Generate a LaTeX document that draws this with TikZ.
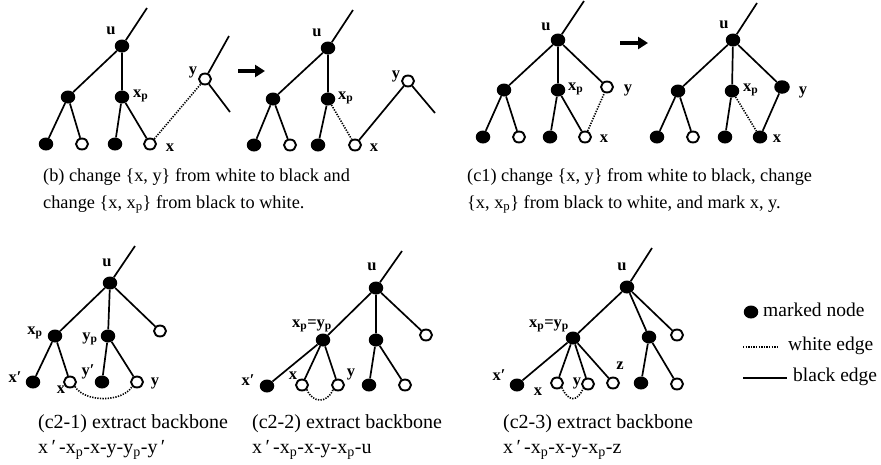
\documentclass[tikz,border=0pt]{standalone}
\usepackage{fontspec}
\setmainfont{Liberation Serif}
\usetikzlibrary{shapes.geometric,arrows.meta}
\newcommand{\sbp}{\textsubscript{p}}
\begin{document}
\begin{tikzpicture}[x=1pt,y=-1pt,
 bn/.style={ellipse,fill=black,inner sep=0pt,minimum width=14.5pt,minimum height=13pt},
 wn/.style={ellipse,draw=black,fill=white,line width=1.9pt,inner sep=0pt,minimum width=12pt,minimum height=11pt},
 blkedge/.style={line width=1.7pt},
 whtedge/.style={line width=1.6pt,dash pattern=on 1.3pt off 1.3pt},
 lab/.style={font=\fontsize{16.5}{18}\selectfont\bfseries,inner sep=0pt},
 captext/.style={font=\fontsize{18.3}{22}\selectfont,inner sep=0pt,anchor=base west},
 captextb/.style={font=\fontsize{20}{22}\selectfont,inner sep=0pt,anchor=base west},
 legtext/.style={font=\fontsize{19.5}{22}\selectfont,inner sep=0pt,anchor=west},
 bigarrow/.style={line width=4.5pt,-{Triangle[width=12pt,length=10pt]}}]
\useasboundingbox (0,0) rectangle (881,464);

% ---------- panel (b) left ----------
\coordinate (bt) at (147,8);
\node[bn] (bu) at (122,46) {};
\node[bn] (bl) at (68,97) {};
\node[bn] (bxp) at (122,97) {};
\node[bn] (bl1) at (46,144) {};
\node[wn] (bl2) at (82,144) {};
\node[bn] (bl3) at (115,144) {};
\node[wn] (bx) at (150,144) {};
\node[wn] (by) at (205,79) {};
\coordinate (byt) at (229,36);
\coordinate (byb) at (230,112);
\node[lab] (lbu) at (111,31) {u};
\node[lab,anchor=west] (lbxp) at (133,96) {x\sbp};
\node[lab] (lbx) at (170,148) {x};
\node[lab] (lby) at (193,72) {y};
\draw[blkedge] (bt) -- (bu) (bu) -- (bl) (bu) -- (bxp) (bl) -- (bl1) (bl) -- (bl2)
  (bxp) -- (bl3) (bxp) -- (bx) (by) -- (byt) (by) -- (byb);
\draw[whtedge] (bx) -- (by);

\coordinate (a1s) at (238,71);
\coordinate (a1e) at (265,71);
\draw[bigarrow] (a1s) -- (a1e);

% ---------- panel (b) right ----------
\coordinate (ct) at (353,10);
\node[bn] (cu) at (328,48) {};
\node[bn] (cl) at (273,99) {};
\node[bn] (cxp) at (328,99) {};
\node[bn] (cl1) at (254,145) {};
\node[wn] (cl2) at (290,145) {};
\node[bn] (cl3) at (318,145) {};
\node[wn] (cx) at (355,145) {};
\node[wn] (cy) at (408,81) {};
\coordinate (cyb) at (435,113);
\node[lab] (lcu) at (317,33) {u};
\node[lab,anchor=west] (lcxp) at (338,98) {x\sbp};
\node[lab] (lcx) at (374,148) {x};
\node[lab] (lcy) at (396,76) {y};
\draw[blkedge] (ct) -- (cu) (cu) -- (cl) (cu) -- (cxp) (cl) -- (cl1) (cl) -- (cl2)
  (cxp) -- (cl3) (cx) -- (cy) (cy) -- (cyb);
\draw[whtedge] (cxp) -- (cx);

% ---------- panel (c1) left ----------
\coordinate (dt) at (584,1);
\node[bn] (du) at (558,40) {};
\node[bn] (dl) at (504,90) {};
\node[bn] (dxp) at (558,90) {};
\node[wn] (dy) at (607,87) {};
\node[bn] (dl1) at (483,137) {};
\node[wn] (dl2) at (519,137) {};
\node[bn] (dl3) at (550,137) {};
\node[wn] (dx) at (585,137) {};
\node[lab] (ldu) at (546,27) {u};
\node[lab,anchor=west] (ldxp) at (568,89) {x\sbp};
\node[lab] (ldy) at (628,90) {y};
\node[lab] (ldx) at (604,139) {x};
\draw[blkedge] (dt) -- (du) (du) -- (dl) (du) -- (dxp) (du) -- (dy) (dl) -- (dl1) (dl) -- (dl2)
  (dxp) -- (dl3) (dxp) -- (dx);
\draw[whtedge] (dx) -- (dy);

\coordinate (a2s) at (620,43);
\coordinate (a2e) at (648,43);
\draw[bigarrow] (a2s) -- (a2e);

% ---------- panel (c1) right ----------
\coordinate (et) at (757,3);
\node[bn] (eu) at (733,40) {};
\node[bn] (el) at (678,91) {};
\node[bn] (exp) at (732,91) {};
\node[bn,minimum width=15.5pt,minimum height=13.5pt] (ey) at (782,87) {};
\node[bn] (el1) at (657,137) {};
\node[wn] (el2) at (693,137) {};
\node[bn] (el3) at (725,137) {};
\node[bn] (ex) at (760,137) {};
\node[lab] (leu) at (724,25) {u};
\node[lab,anchor=west] (lexp) at (743,90) {x\sbp};
\node[lab] (ley) at (803,92) {y};
\node[lab] (lex) at (777,139) {x};
\draw[blkedge] (et) -- (eu) (eu) -- (el) (eu) -- (exp) (eu) -- (ey) (el) -- (el1) (el) -- (el2)
  (exp) -- (el3) (ex) -- (ey);
\draw[whtedge] (exp) -- (ex);

% ---------- captions top ----------
\node[captext] (capb1) at (43,181) {(b) change \{x, y\} from white to black and};
\node[captext] (capb2) at (43,208) {change \{x, x\sbp\} from black to white.};
\node[captext] (capc1) at (467,181) {(c1) change \{x, y\} from white to black, change};
\node[captext] (capc2) at (467,208) {\{x, x\sbp\} from black to white, and mark x, y.};

% ---------- panel (c2-1) ----------
\coordinate (ft) at (135,246);
\node[bn] (fu) at (110,283) {};
\node[bn] (fxp) at (55,336) {};
\node[bn] (fyp) at (108,336) {};
\node[wn] (fw) at (160,331) {};
\node[bn] (fxq) at (33,382) {};
\node[wn] (fx) at (70,382) {};
\node[bn] (fyq) at (102,382) {};
\node[wn] (fy) at (137,382) {};
\node[lab] (lfu) at (107,263) {u};
\node[lab] (lfxp) at (35,333) {x\sbp};
\node[lab] (lfyp) at (90,339) {y\sbp};
\node[lab] (lfxq) at (15,377) {x′};
\node[lab] (lfx) at (61,390) {x};
\node[lab] (lfyq) at (88,372) {y′};
\node[lab] (lfy) at (155,383) {y};
\draw[blkedge] (ft) -- (fu) (fu) -- (fxp) (fu) -- (fyp) (fu) -- (fw) (fxp) -- (fxq) (fxp) -- (fx)
  (fyp) -- (fyq) (fyp) -- (fy);
\draw[whtedge] (fx.south east) .. controls +(10,16) and +(-10,16) .. (fy.south west);
\node[captextb] (capf1) at (38,428) {(c2-1) extract backbone};
\node[captextb] (capf2) at (38,453) {x\,′\,-x\sbp-x-y-y\sbp-y\,′};

% ---------- panel (c2-2) ----------
\coordinate (gt) at (402,251);
\node[bn] (gu) at (376,288) {};
\node[bn] (gxy) at (323,340) {};
\node[bn] (gm) at (376,340) {};
\node[wn] (gw) at (426,335) {};
\node[bn] (gxq) at (267,386) {};
\node[wn] (gx) at (302,385) {};
\node[wn] (gy) at (338,385) {};
\node[bn] (gl1) at (369,385) {};
\node[wn] (gl2) at (405,385) {};
\node[lab] (lgu) at (372,267) {u};
\node[lab] (lgxy) at (312,326) {x\sbp=y\sbp};
\node[lab] (lgxq) at (248,380) {x′};
\node[lab] (lgx) at (293,376) {x};
\node[lab] (lgy) at (351,374) {y};
\draw[blkedge] (gt) -- (gu) (gu) -- (gxy) (gu) -- (gm) (gu) -- (gw) (gxy) -- (gxq) (gxy) -- (gx)
  (gxy) -- (gy) (gm) -- (gl1) (gm) -- (gl2);
\draw[whtedge] (gx.south east) .. controls +(6,14) and +(-6,14) .. (gy.south west);
\node[captextb] (capg1) at (252,428) {(c2-2) extract backbone};
\node[captextb] (capg2) at (252,453) {x\,′\,-x\sbp-x-y-x\sbp-u};

% ---------- panel (c2-3) ----------
\coordinate (ht) at (652,248);
\node[bn] (hu) at (627,287) {};
\node[bn] (hxy) at (573,338) {};
\node[bn] (hm) at (649,337) {};
\node[wn] (hw) at (677,335) {};
\node[bn] (hxq) at (517,385) {};
\node[wn] (hx) at (557,383) {};
\node[wn] (hy) at (588,384) {};
\node[wn] (hz) at (613,383) {};
\node[bn] (hl1) at (641,383) {};
\node[wn] (hl2) at (677,384) {};
\node[lab] (lhu) at (622,267) {u};
\node[lab] (lhxy) at (549,326) {x\sbp=y\sbp};
\node[lab] (lhxq) at (499,375) {x′};
\node[lab] (lhx) at (538,392) {x};
\node[lab] (lhy) at (577,383) {y};
\node[lab] (lhz) at (620,366) {z};
\draw[blkedge] (ht) -- (hu) (hu) -- (hxy) (hu) -- (hm) (hu) -- (hw) (hxy) -- (hxq) (hxy) -- (hx)
  (hxy) -- (hy) (hxy) -- (hz) (hm) -- (hl1) (hm) -- (hl2);
\draw[whtedge] (hx.south east) .. controls +(6,14) and +(-6,14) .. (hy.south west);
\node[captextb] (caph1) at (503,428) {(c2-3) extract backbone};
\node[captextb] (caph2) at (503,453) {x\,′\,-x\sbp-x-y-x\sbp-z};

% ---------- legend ----------
\node[bn] (legn) at (751,312) {};
\node[legtext] (legnt) at (763,310) {marked node};
\coordinate (legw1) at (743,347);
\coordinate (legw2) at (777,347);
\draw[whtedge,line width=1.2pt] (legw1) -- (legw2);
\node[legtext] (legwt) at (788,346) {white edge};
\coordinate (legb1) at (743,378);
\coordinate (legb2) at (787,378);
\draw[blkedge,line width=1.3pt] (legb1) -- (legb2);
\node[legtext] (legbt) at (793,377) {black edge};
\end{tikzpicture}
\end{document}
